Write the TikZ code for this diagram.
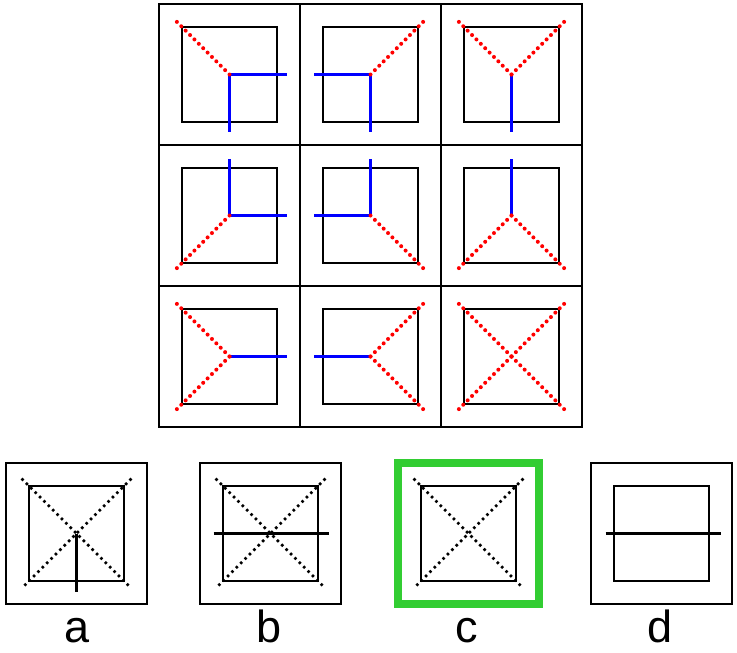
\documentclass[tikz,border=0pt]{standalone}
\usepackage{fontspec}
\setmainfont{Liberation Sans}
\usetikzlibrary{calc}
\definecolor{pickgreen}{RGB}{50,205,50}
\definecolor{lineblue}{RGB}{0,0,255}
\definecolor{dotred}{RGB}{255,0,0}

\begin{document}
\begin{tikzpicture}[
    x=1pt, y=-1pt,
    cellbox/.style={draw, line width=2.2pt},
    innerbox/.style={draw, line width=2.2pt},
    redlink/.style={draw=dotred, line width=4pt, dash pattern=on 0pt off 6.2pt, line cap=round},
    bluelink/.style={draw=lineblue, line width=3pt},
    blackdots/.style={draw, line width=3.6pt, dash pattern=on 0pt off 6.2pt, line cap=round},
    blackline/.style={draw, line width=2.4pt},
    choice/.style={font=\fontsize{45}{48}\selectfont, anchor=base}
]
\useasboundingbox (0,0) rectangle (737,653);

% Matrix cells
\coordinate (c11) at (229.5, 74.5);
\coordinate (c12) at (370.5, 74.5);
\coordinate (c13) at (511.5, 74.5);
\coordinate (c21) at (229.5, 215.5);
\coordinate (c22) at (370.5, 215.5);
\coordinate (c23) at (511.5, 215.5);
\coordinate (c31) at (229.5, 356.5);
\coordinate (c32) at (370.5, 356.5);
\coordinate (c33) at (511.5, 356.5);

\foreach \c in {c11,c12,c13,c21,c22,c23,c31,c32,c33} {
    \draw[cellbox] ($(\c)+(-70.5,-70.5)$) rectangle ($(\c)+(70.5,70.5)$);
    \draw[innerbox] ($(\c)+(-47.5,-47.5)$) rectangle ($(\c)+(47.5,47.5)$);
}

% Blue arms
\foreach \c/\dx/\dy in {c11/57/0, c11/0/57, c12/-57/0, c12/0/57, c13/0/57,
                        c21/0/-57, c21/57/0, c22/-57/0, c22/0/-57, c23/0/-57,
                        c31/57/0, c32/-57/0}
    \draw[bluelink] (\c) -- ++(\dx,\dy);

% Red dotted arms
\foreach \c/\dx/\dy in {c11/-54/-54, c12/54/-54, c13/-54/-54, c13/54/-54,
                        c21/-54/54, c22/54/54, c23/-54/54, c23/54/54,
                        c31/-54/-54, c31/-54/54, c32/54/-54, c32/54/54,
                        c33/-54/-54, c33/54/-54, c33/-54/54, c33/54/54}
    \draw[redlink] (\c) -- ++(\dx,\dy);

% Answer choices
\coordinate (oa) at (76.5, 533.5);
\coordinate (ob) at (270.5, 533.5);
\coordinate (oc) at (468.5, 533.5);
\coordinate (od) at (661.5, 533.5);

\foreach \c in {oa,ob,od}
    \draw[cellbox] ($(\c)+(-70.5,-70.5)$) rectangle ($(\c)+(70.5,70.5)$);
\draw[draw=pickgreen, line width=8pt] ($(oc)+(-70.5,-70.5)$) rectangle ($(oc)+(70.5,70.5)$);

\foreach \c in {oa,ob,oc,od}
    \draw[innerbox] ($(\c)+(-47.5,-47.5)$) rectangle ($(\c)+(47.5,47.5)$);

\foreach \c in {oa,ob,oc} {
    \draw[blackdots] ($(\c)+(-54,-54)$) -- ($(\c)+(54,54)$);
    \draw[blackdots] ($(\c)+(54,-54)$) -- ($(\c)+(-54,54)$);
}
\draw[blackline] (oa) -- ++(0,58);
\draw[blackline] ($(ob)+(-57,0)$) -- ($(ob)+(58,0)$);
\draw[blackline] ($(od)+(-56,0)$) -- ($(od)+(59,0)$);

\node[choice] (la) at (77, 642.5) {a};
\node[choice] (lb) at (269, 642.5) {b};
\node[choice] (lc) at (467, 642.5) {c};
\node[choice] (ld) at (660, 642.5) {d};

\end{tikzpicture}
\end{document}
